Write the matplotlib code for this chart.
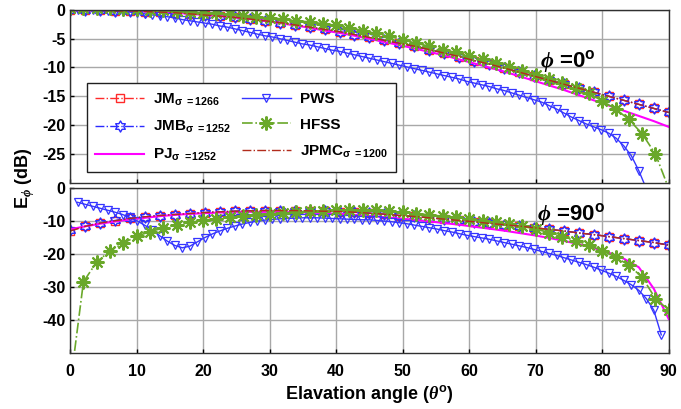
import numpy as np
import matplotlib.pyplot as plt
from matplotlib.path import Path

plt.rcParams['font.family'] = ['Liberation Sans', 'DejaVu Sans']
plt.rcParams['font.weight'] = 'bold'
plt.rcParams['mathtext.fontset'] = 'custom'
plt.rcParams['mathtext.rm'] = 'Liberation Sans:bold'
plt.rcParams['mathtext.bf'] = 'Liberation Sans:bold'
plt.rcParams['mathtext.it'] = 'Liberation Serif:italic'
plt.rcParams['mathtext.default'] = 'rm'
plt.rcParams['axes.unicode_minus'] = False

# elevation grids (deg)
theta_sim = np.linspace(0, 90, 41)
theta_pws = np.linspace(0, 90, 81)
theta_hfss = np.arange(0, 91, 2)

# ---- phi = 0 deg ----
jm_0 = [-0.1, -0.1, -0.1, -0.2, -0.2, -0.3, -0.4, -0.5, -0.7, -0.9,
        -1.1, -1.3, -1.6, -1.9, -2.2, -2.6, -3.0, -3.4, -3.8, -4.3,
        -4.8, -5.3, -5.8, -6.3, -6.9, -7.5, -8.1, -8.8, -9.4, -10.1,
        -10.8, -11.5, -12.2, -12.9, -13.6, -14.3, -15.0, -15.7, -16.4, -17.1,
        -17.8]
jmb_0 = [-0.1, -0.1, -0.1, -0.2, -0.2, -0.3, -0.4, -0.5, -0.7, -0.9,
         -1.1, -1.3, -1.6, -1.9, -2.2, -2.6, -3.0, -3.4, -3.8, -4.3,
         -4.8, -5.3, -5.8, -6.3, -6.9, -7.5, -8.1, -8.8, -9.4, -10.1,
         -10.8, -11.5, -12.2, -12.9, -13.6, -14.3, -15.0, -15.7, -16.4, -17.1,
         -17.8]
pj_0 = [-0.1, -0.1, -0.1, -0.2, -0.2, -0.3, -0.4, -0.5, -0.7, -0.9,
        -1.1, -1.3, -1.6, -1.9, -2.3, -2.7, -3.1, -3.6, -4.0, -4.5,
        -5.0, -5.6, -6.1, -6.7, -7.3, -7.9, -8.6, -9.3, -10.0, -10.7,
        -11.5, -12.3, -13.1, -13.9, -14.8, -15.7, -16.6, -17.5, -18.4, -19.3,
        -20.3]
jpmc_0 = jm_0
pws_0 = [-0.1, -0.1, -0.1, -0.1, -0.2, -0.2, -0.3, -0.3, -0.4, -0.5,
         -0.7, -0.9, -1.0, -1.2, -1.4, -1.7, -1.9, -2.1, -2.3, -2.5,
         -2.8, -3.0, -3.3, -3.6, -3.9, -4.2, -4.5, -4.7, -5.0, -5.3,
         -5.6, -5.9, -6.1, -6.4, -6.7, -7.0, -7.2, -7.5, -7.8, -8.1,
         -8.4, -8.7, -9.0, -9.3, -9.6, -9.9, -10.2, -10.5, -10.8, -11.1,
         -11.4, -11.7, -12.0, -12.4, -12.7, -13.0, -13.3, -13.7, -14.0, -14.4,
         -14.8, -15.2, -15.6, -16.0, -16.6, -17.2, -17.9, -18.6, -19.2, -19.8,
         -20.3, -20.8, -21.4, -22.3, -23.6, -25.3, -27.9, -31.0, -35.0, -39.0,
         -44.0]
hfss_0 = [0.3, 0.3, 0.3, 0.3, 0.2, 0.1, 0.0, -0.1, -0.2, -0.4,
          -0.5, -0.6, -0.8, -1.0, -1.2, -1.4, -1.6, -1.9, -2.1, -2.4,
          -2.7, -3.1, -3.6, -4.1, -4.6, -5.2, -5.8, -6.3, -6.9, -7.4,
          -8.0, -8.6, -9.2, -9.9, -10.6, -11.3, -12.0, -12.7, -13.5, -14.5,
          -15.8, -17.2, -19.0, -21.5, -25.0, -31.0]

# ---- phi = 90 deg ----
jm_90 = [-13.0, -11.6, -10.6, -9.9, -9.2, -8.7, -8.3, -8.0, -7.7, -7.4,
         -7.2, -7.0, -6.9, -6.8, -6.8, -6.8, -6.9, -7.0, -7.1, -7.3,
         -7.6, -7.9, -8.3, -8.6, -9.0, -9.4, -9.8, -10.2, -10.7, -11.1,
         -11.5, -12.0, -12.5, -13.0, -13.6, -14.1, -14.7, -15.3, -15.9, -16.5,
         -17.3]
jmb_90 = [-12.8, -11.5, -10.5, -9.8, -9.2, -8.7, -8.3, -8.0, -7.7, -7.4,
          -7.2, -7.0, -6.9, -6.8, -6.8, -6.8, -6.9, -7.0, -7.1, -7.3,
          -7.6, -7.9, -8.3, -8.6, -9.0, -9.4, -9.8, -10.2, -10.7, -11.1,
          -11.5, -12.0, -12.5, -13.0, -13.6, -14.1, -14.7, -15.3, -15.9, -16.5,
          -17.2]
pj_90 = [-12.5, -11.6, -10.8, -10.1, -9.5, -9.0, -8.5, -8.1, -7.8, -7.6,
         -7.4, -7.3, -7.2, -7.2, -7.2, -7.3, -7.4, -7.6, -7.8, -8.1,
         -8.4, -8.8, -9.2, -9.6, -10.1, -10.6, -11.1, -11.7, -12.3, -12.9,
         -13.6, -14.3, -15.1, -16.0, -17.0, -18.2, -19.6, -21.4, -24.0, -30.5,
         -39.7]
jpmc_90 = jm_90
pws_90 = [np.nan, -4.3, -4.9, -5.5, -6.1, -6.7, -7.3, -8.0, -8.9, -10.0,
          -11.3, -12.8, -14.5, -16.1, -17.4, -18.1, -17.6, -16.3, -15.0, -13.9,
          -13.0, -12.2, -11.5, -10.9, -10.4, -10.0, -9.7, -9.5, -9.3, -9.2,
          -9.1, -9.0, -9.0, -9.0, -9.1, -9.2, -9.3, -9.4, -9.5, -9.6,
          -9.6, -9.8, -10.0, -10.2, -10.5, -10.8, -11.2, -11.6, -12.0, -12.4,
          -12.9, -13.3, -13.8, -14.3, -14.7, -15.1, -15.5, -16.0, -16.5, -17.0,
          -17.5, -18.0, -18.6, -19.2, -19.8, -20.4, -21.1, -21.8, -22.5, -23.2,
          -24.0, -24.9, -25.8, -26.8, -28.0, -29.3, -31.0, -33.5, -37.0, -44.5,
          np.nan]
hfss_90 = [-60.0, -28.4, -22.4, -19.0, -16.7, -14.6, -13.2, -12.1, -11.2, -10.4,
           -9.8, -9.3, -8.8, -8.4, -8.0, -7.7, -7.4, -7.2, -7.0, -6.8,
           -6.7, -6.6, -6.5, -6.6, -6.9, -7.3, -7.7, -8.1, -8.5, -8.9,
           -9.4, -9.9, -10.4, -10.9, -11.6, -12.4, -13.5, -14.8, -15.9, -17.3,
           -19.0, -20.9, -23.4, -27.0, -33.5, -37.0]

labels = [r'JM$_{\sigma}$$_{\ =1266}$', r'JMB$_{\sigma}$$_{\ =1252}$',
          r'PJ$_{\sigma}$$_{\ =1252}$', 'PWS', 'HFSS',
          r'JPMC$_{\sigma}$$_{\ =1200}$']

hexagram = Path.unit_regular_star(6, innerCircle=0.58)

fig = plt.figure(figsize=(6.81, 4.09), dpi=100)
ax1 = fig.add_axes([0.103, 0.553, 0.879, 0.423])
ax2 = fig.add_axes([0.103, 0.137, 0.879, 0.403])


def draw(ax, jm, jmb, pj, pws, hfss, jpmc):
    h = []
    h += ax.plot(theta_sim, jm, color='#ff2a2a', ls='-.', lw=1, marker='s',
                 ms=6, mfc='none', mec='#ff2a2a', mew=1)
    h += ax.plot(theta_sim, jmb, color='#2a2aff', ls='-.', lw=1, marker=hexagram,
                 ms=8, mfc='none', mec='#2a2aff', mew=1)
    h += ax.plot(theta_sim, pj, color='#ff00ff', ls='-', lw=1.5)
    h += ax.plot(theta_pws, pws, color='#3535ff', ls='-', lw=1, marker='v',
                 ms=5.5, mfc='none', mec='#3535ff', mew=0.9)
    h += ax.plot(theta_hfss, hfss, color='#6aa82a', ls='-.', lw=1.2, marker=(8, 2, 0),
                 ms=10, mec='#6aa82a', mew=1.5)
    h += ax.plot(theta_sim, jpmc, color='#b22c1c', ls='-.', lw=1)
    ax.set_xlim(0, 90)
    ax.set_xticks(np.arange(0, 91, 10))
    ax.grid(True, color='#a8a8a8', lw=1)
    ax.set_axisbelow(True)
    ax.tick_params(direction='in', length=3, labelsize=11.5, width=1)
    for s in ax.spines.values():
        s.set_color('#303030')
        s.set_linewidth(1)
    return h


handles = draw(ax1, jm_0, jmb_0, pj_0, pws_0, hfss_0, jpmc_0)
draw(ax2, jm_90, jmb_90, pj_90, pws_90, hfss_90, jpmc_90)

ax1.set_ylim(-30, 0)
ax1.set_yticks([0, -5, -10, -15, -20, -25])
ax1.tick_params(labelbottom=False)
ax2.set_ylim(-50, 0)
ax2.set_yticks([0, -10, -20, -30, -40])
ax2.tick_params(axis='x', pad=8)
for t in ax1.get_yticklabels() + ax2.get_yticklabels() + ax2.get_xticklabels():
    t.set_fontweight('bold')

ax1.text(70.7, -8.9, r'$\mathit{\phi}$ =0$^{\mathbf{o}}$', fontsize=16,
         fontweight='bold', ha='left', va='center')
ax2.text(70.2, -7.9, r'$\mathit{\phi}$ =90$^{\mathbf{o}}$', fontsize=16,
         fontweight='bold', ha='left', va='center')

leg = ax1.legend(handles, labels, ncol=2, loc='lower left',
                 bbox_to_anchor=(0.028, 0.064), borderaxespad=0, fontsize=11,
                 handlelength=3.2, handletextpad=0.6, columnspacing=0.7,
                 labelspacing=0.75, borderpad=0.55,
                 fancybox=False, framealpha=1, edgecolor='#202020')
leg.get_frame().set_linewidth(1)

ax2.set_xlabel(r'Elavation angle ($\mathit{\theta}^{\mathbf{o}}$)', fontsize=13,
               fontweight='bold', labelpad=3)
fig.text(0.037, 0.565, r'E$_{\mathit{\phi}}$ (dB)', rotation=90, fontsize=13,
         fontweight='bold', ha='center', va='center')

fig.savefig('out.png', dpi=100)
